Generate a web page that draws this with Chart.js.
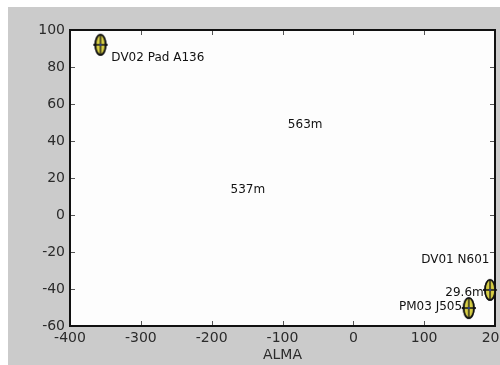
<!DOCTYPE html>
<html>
<head>
<meta charset="utf-8">
<script src="https://cdn.jsdelivr.net/npm/chart.js@4/dist/chart.umd.min.js"></script>
<style>
  html, body { margin: 0; padding: 0; background: #fff; }
  #wrap { width: 500px; height: 365px; }
</style>
</head>
<body>
<div id="wrap"><canvas id="padChart" width="500" height="365"></canvas></div>
<script>
// antenna pad positions (m)
const padX = [-357, 193, 163];
const padY = [92, -40.5, -50.3];

// text notes, placed by their centre in data units
const noteText = ['DV02 Pad A136', '563m', '537m', 'DV01 N601', '29.6m', 'PM03 J505'];
const noteX = [-276, -68, -149, 144, 157, 109];
const noteY = [85, 48.6, 13.5, -24.3, -42.2, -49.7];

const xMin = -400, xMax = 200, xStep = 100;
const yMin = -60, yMax = 100, yStep = 20;
const axisLabel = 'ALMA';

const font = "'DejaVu Sans', sans-serif";

// yellow ellipse with a cross through it
function makeMarker() {
  const c = document.createElement('canvas');
  c.width = 16;
  c.height = 24;
  const g = c.getContext('2d');
  g.beginPath();
  g.ellipse(8, 12, 5, 10, 0, 0, Math.PI * 2);
  g.fillStyle = '#d8cf45';
  g.fill();
  g.lineWidth = 1.6;
  g.strokeStyle = '#111';
  g.stroke();
  g.beginPath();
  g.moveTo(1, 12); g.lineTo(15, 12);
  g.moveTo(8, 3); g.lineTo(8, 21);
  g.lineWidth = 1.3;
  g.stroke();
  g.fillStyle = '#2a3c8a';
  g.fillRect(7, 11, 2, 2);
  return c;
}

const backdrop = {
  id: 'backdrop',
  beforeDraw(chart) {
    const { ctx, chartArea: a } = chart;
    ctx.save();
    ctx.fillStyle = '#ffffff';
    ctx.fillRect(0, 0, chart.width, chart.height);
    ctx.fillStyle = '#cbcbcb';
    ctx.fillRect(8, 7, chart.width - 8, chart.height - 7);
    ctx.fillStyle = '#fdfdfd';
    ctx.fillRect(a.left, a.top, a.right - a.left, a.bottom - a.top);
    ctx.restore();
  }
};

const frame = {
  id: 'frame',
  afterDatasetsDraw(chart) {
    const { ctx, chartArea: a, scales } = chart;
    ctx.save();
    // inward ticks
    ctx.strokeStyle = '#555';
    ctx.lineWidth = 1;
    ctx.beginPath();
    for (let v = xMin; v <= xMax; v += xStep) {
      const px = Math.round(scales.x.getPixelForValue(v)) + 0.5;
      ctx.moveTo(px, a.bottom); ctx.lineTo(px, a.bottom - 5);
      ctx.moveTo(px, a.top); ctx.lineTo(px, a.top + 5);
    }
    for (let v = yMin; v <= yMax; v += yStep) {
      const py = Math.round(scales.y.getPixelForValue(v)) + 0.5;
      ctx.moveTo(a.left, py); ctx.lineTo(a.left + 5, py);
      ctx.moveTo(a.right, py); ctx.lineTo(a.right - 5, py);
    }
    ctx.stroke();
    ctx.strokeStyle = '#111';
    ctx.lineWidth = 2;
    ctx.strokeRect(a.left, a.top, a.right - a.left, a.bottom - a.top);

    // notes
    ctx.fillStyle = '#111';
    ctx.font = '12px ' + font;
    ctx.textAlign = 'center';
    ctx.textBaseline = 'middle';
    noteText.forEach((t, i) => {
      ctx.fillText(t, scales.x.getPixelForValue(noteX[i]), scales.y.getPixelForValue(noteY[i]));
    });
    ctx.restore();
  },
  afterDraw(chart) {
    // markers sit on top of the notes
    chart.getDatasetMeta(0).controller.draw();
  }
};

new Chart(document.getElementById('padChart'), {
  type: 'scatter',
  data: {
    datasets: [{
      data: padX.map((x, i) => ({ x, y: padY[i] })),
      pointStyle: makeMarker(),
      pointRadius: 10
    }]
  },
  options: {
    responsive: false,
    animation: false,
    layout: { autoPadding: false, padding: { top: 30, right: 5, left: 0, bottom: 0 } },
    plugins: { legend: { display: false }, tooltip: { enabled: false } },
    scales: {
      x: {
        type: 'linear',
        min: xMin,
        max: xMax,
        grid: { display: false, drawTicks: false },
        border: { display: false },
        ticks: { stepSize: xStep, padding: 4, color: '#2b2b2b', font: { family: font, size: 14 } },
        title: { display: true, text: axisLabel, color: '#2b2b2b', padding: { top: 0, bottom: 1 }, font: { family: font, size: 14 } },
        afterFit(s) {
          s.height = 39;
          s.paddingLeft = 0;
          s.paddingRight = 0;
        }
      },
      y: {
        type: 'linear',
        min: yMin,
        max: yMax,
        grid: { display: false, drawTicks: false },
        border: { display: false },
        ticks: { stepSize: yStep, padding: 5, color: '#2b2b2b', font: { family: font, size: 14 } },
        afterFit(s) {
          s.width = 70;
          s.paddingTop = 0;
          s.paddingBottom = 0;
        }
      }
    }
  },
  plugins: [backdrop, frame]
});
</script>
</body>
</html>
